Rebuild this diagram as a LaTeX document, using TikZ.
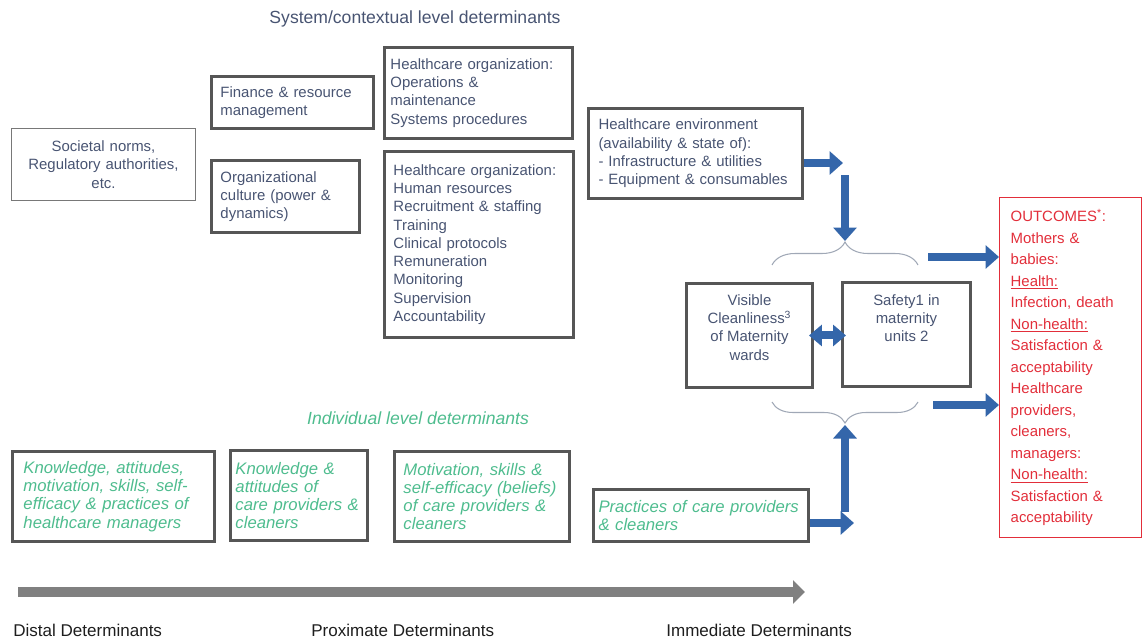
\documentclass[tikz,border=0pt]{standalone}
\usepackage{fontspec}
\setmainfont{Liberation Sans}
\usetikzlibrary{arrows.meta,decorations.pathreplacing,positioning}

\definecolor{slate}{RGB}{72,84,114}
\definecolor{frame}{RGB}{86,86,86}
\definecolor{mint}{RGB}{78,188,142}
\definecolor{outred}{RGB}{226,46,58}
\definecolor{flow}{RGB}{52,102,170}
\definecolor{curly}{RGB}{160,168,182}
\definecolor{axisgray}{RGB}{128,128,128}
\definecolor{labelblack}{RGB}{30,30,30}

\begin{document}
\begin{tikzpicture}[x=0.02cm, y=-0.02cm,
    det/.style={draw=frame, line width=1.7pt, anchor=north west, inner xsep=0.1cm, inner ysep=0pt,
      text=slate, align=left, font=\fontsize{8.5}{10.4}\selectfont},
    ind/.style={det, text=mint, font=\fontsize{9.5}{10.4}\selectfont\itshape},
    mid/.style={det, inner sep=0pt, align=center},
    flowarr/.style={flow, line width=0.16cm, -{Triangle[width=0.46cm,length=0.27cm]}},
    curl/.style={curly, line width=0.6pt, decorate},
    stage/.style={anchor=west, inner sep=0pt, text=labelblack, font=\fontsize{9.7}{12}\selectfont}]
  \useasboundingbox (0,0) rectangle (1142,639);

  % system / contextual level
  \node[text=slate, font=\fontsize{10}{12}\selectfont] (sys) at (415,19) {System/contextual level determinants};
  \node[det, draw=frame!80, line width=0.6pt, align=center, minimum width=3.68cm, minimum height=1.44cm, text width=3.3cm] (soc) at (11,128)
    {Societal norms,\\ Regulatory authorities,\\ etc.};
  \node[det, minimum width=3.24cm, minimum height=1.04cm, text width=2.88cm] (fin) at (210,75)
    {Finance \& resource\\ management};
  \node[det, minimum width=2.96cm, minimum height=1.44cm, text width=2.6cm] (cult) at (210,159)
    {Organizational\\ culture (power \&\\ dynamics)};
  \node[det, minimum width=3.76cm, minimum height=1.82cm, text width=3.52cm] (ops) at (383,46)
    {Healthcare organization:\\ Operations \&\\ maintenance\\ Systems procedures};
  \node[det, minimum width=3.78cm, minimum height=3.72cm, text width=3.42cm] (hr) at (383,150)
    {Healthcare organization:\\ Human resources\\ Recruitment \& staffing\\ Training\\ Clinical protocols\\ Remuneration\\ Monitoring\\ Supervision\\ Accountability};
  \node[det, minimum width=4.28cm, minimum height=1.8cm, text width=3.88cm] (env) at (587,107)
    {Healthcare environment\\ (availability \& state of):\\ - Infrastructure \& utilities\\ - Equipment \& consumables};

  % immediate determinants
  \node[mid, minimum width=2.52cm, minimum height=2.08cm] (vis) at (685,282)
    {\parbox[t][2.08cm][t]{2.52cm}{\centering\vspace*{0.22cm}Visible\\ Cleanliness\textsuperscript{3}\\ of Maternity\\ wards}};
  \node[mid, minimum width=2.56cm, minimum height=2.08cm] (saf) at (841,281)
    {\parbox[t][2.08cm][t]{2.56cm}{\centering\vspace*{0.24cm}Safety1 in\\ maternity\\ units 2}};

  % outcomes
  \node[det, draw=outred, line width=0.8pt, text=outred, font=\fontsize{8.5}{12.25}\selectfont,
    minimum width=2.84cm, minimum height=6.8cm, text width=2.4cm] (out) at (999,197)
    {OUTCOMES\textsuperscript{*}:\\ Mothers \&\\ babies:\\ \underline{Health:}\\ Infection, death\\ \underline{Non-health:}\\ Satisfaction \&\\ acceptability\\ Healthcare\\ providers,\\ cleaners,\\ managers:\\ \underline{Non-health:}\\ Satisfaction \&\\ acceptability};

  % individual level
  \node[text=mint, font=\fontsize{10}{12}\selectfont\itshape] (indiv) at (418,418) {Individual level determinants};
  \node[ind, minimum width=4.04cm, minimum height=1.8cm, text width=3.6cm] (mgr) at (11,450)
    {Knowledge, attitudes,\\ motivation, skills, self-\\ efficacy \& practices of\\ healthcare managers};
  \node[ind, minimum width=2.74cm, minimum height=1.8cm, text width=2.54cm] (know) at (229,449)
    {Knowledge \&\\ attitudes of\\ care providers \&\\ cleaners};
  \node[ind, minimum width=3.5cm, minimum height=1.8cm, text width=3.14cm] (motiv) at (393,450)
    {Motivation, skills \&\\ self-efficacy (beliefs)\\ of care providers \&\\ cleaners};
  \node[ind, minimum width=4.3cm, minimum height=1.04cm, text width=4.1cm] (prac) at (592,488)
    {Practices of care providers\\ \& cleaners};

  % braces round the two immediate boxes
  \coordinate (tbl) at (772,265);
  \coordinate (tbr) at (918,265);
  \coordinate (bbl) at (772,402);
  \coordinate (bbr) at (918,402);
  \draw[curl, decoration={brace, amplitude=0.46cm}] (tbl) -- (tbr);
  \draw[curl, decoration={brace, amplitude=0.42cm}] (bbr) -- (bbl);

  % blue arrows
  \coordinate (envtip) at (843,163);
  \coordinate (downtop) at (845,175);
  \coordinate (topmid) at (845,241);
  \coordinate (upbot) at (845,512);
  \coordinate (botmid) at (845,425);
  \coordinate (practip) at (854,523);
  \coordinate (o1) at (928,257);
  \coordinate (o2) at (933,405);
  \draw[flowarr] (envtip -| env.east) -- (envtip);
  \draw[flowarr] (downtop) -- (topmid);
  \draw[flowarr] (upbot) -- (botmid);
  \draw[flowarr] (practip -| prac.east) -- (practip);
  \draw[flowarr] (o1) -- (o1 -| out.west);
  \draw[flowarr] (o2) -- (o2 -| out.west);
  \draw[flowarr, {Triangle[width=0.42cm,length=0.26cm]}-{Triangle[width=0.42cm,length=0.26cm]}]
    ([xshift=-0.1cm]vis.east) -- ([xshift=0.1cm]vis.east -| saf.west);

  % distal to immediate
  \coordinate (axs) at (18,592);
  \coordinate (axe) at (805,592);
  \draw[axisgray, line width=0.2cm, -{Triangle[width=0.46cm,length=0.24cm]}] (axs) -- (axe);
  \node[stage] (dist) at (13,630) {Distal Determinants};
  \node[stage] (prox) at (311,630) {Proximate Determinants};
  \node[stage] (imm) at (666,630) {Immediate Determinants};
\end{tikzpicture}
\end{document}
